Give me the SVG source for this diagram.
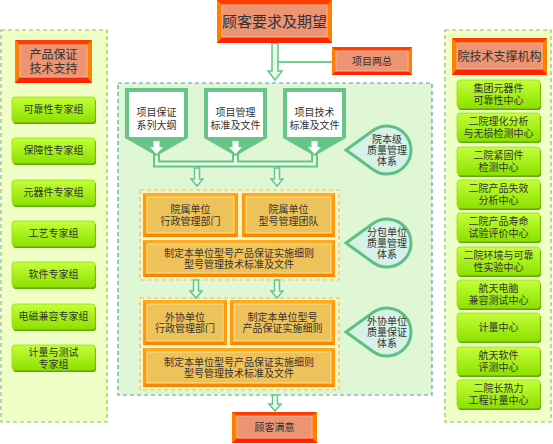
<svg xmlns="http://www.w3.org/2000/svg" width="553" height="444" viewBox="0 0 553 444">
<defs>
<linearGradient id="gb" x1="0" y1="0" x2="0" y2="1">
<stop offset="0" stop-color="#C4FF3A"/>
<stop offset="1" stop-color="#8EE000"/>
</linearGradient>
<style>
text{font-family:'Liberation Sans','Noto Sans CJK SC',sans-serif;fill:#333;text-anchor:middle;dominant-baseline:central}
.t10{font-size:10px}
.t12{font-size:12px}
.t14{font-size:15px}
.panel{fill:#F0FFC6;stroke:#88C85A;stroke-width:1.2;stroke-dasharray:4 3}
.center{fill:#E0F7D6;stroke:#5A9FB0;stroke-width:1.2;stroke-dasharray:4 3}
.cont{fill:#F3F6C8;stroke:#E8C060;stroke-width:1.2;stroke-dasharray:4 3}
.gsh{fill:#5DAE00}
.gbtn{fill:url(#gb);stroke:#9AE010;stroke-width:0.8}
.rside{fill:#FF7F00}
.rtop{fill:#FF3D00}
.rbot{fill:#FF2400}
.rin{fill:#EC9474;stroke:#F6B89A;stroke-width:1}
.oside{fill:#FF9A10}
.otop{fill:#FFAA20}
.obot{fill:#F58800}
.oin{fill:#EEC25A;stroke:#FFE38A;stroke-width:1}
.pent{fill:#66C587}
.pin{fill:#FFFFFF}
.arr{fill:#E8FAE8;stroke:#66C587;stroke-width:1.5}
.call{fill:#D6F1E8;stroke:#5EC083;stroke-width:3}
</style>
</defs>

<!-- background panels -->
<rect class="panel" x="1" y="30" width="106" height="392"/>
<rect class="panel" x="445" y="30" width="106" height="392"/>
<rect class="center" x="118" y="83" width="314" height="312"/>
<rect class="cont" x="140" y="190" width="199" height="90"/>
<rect class="cont" x="140" y="298" width="199" height="92"/>

<!-- connectors -->
<g id="connectors">
<line x1="278" y1="62" x2="333" y2="62" stroke="#70D090" stroke-width="2"/>
<polygon class="arr" points="272,43 278,43 278,71 282,71 275,80 268,71 272,71"/>
<path d="M156.5,152 V164 H314.5 V152 M235.5,152 V164" fill="none" stroke="#66C587" stroke-width="7"/>
<path d="M156.5,152 V164 H314.5 V152 M235.5,152 V164" fill="none" stroke="#E8FAE8" stroke-width="3"/>
<polygon class="arr" points="194.5,168 199.5,168 199.5,179 203,179 197,186 191,179 194.5,179"/>
<polygon class="arr" points="274.5,168 279.5,168 279.5,179 283,179 277,186 271,179 274.5,179"/>
<polygon class="arr" points="193.5,280 198.5,280 198.5,291 202,291 196,298 190,291 193.5,291"/>
<polygon class="arr" points="274.5,280 279.5,280 279.5,291 283,291 277,298 271,291 274.5,291"/>
<polygon class="arr" points="272.5,395 277.5,395 277.5,404 281,404 275,411 269,404 272.5,404"/>
</g>

<!-- top box -->
<g id="n-top">
<rect class="rside" x="217" y="0" width="115" height="43"/>
<polygon class="rtop" points="217,0 332,0 327,5 222,5"/>
<polygon class="rbot" points="217,43 332,43 327,37 222,37"/>
<rect class="rin" x="222" y="5" width="105" height="32"/>
<text class="t14" x="274.5" y="21.5">顾客要求及期望</text>
</g>

<g id="n-liangzong">
<rect class="rside" x="332" y="47" width="80" height="28"/>
<polygon class="rtop" points="332,47 412,47 408,51 336,51"/>
<polygon class="rbot" points="332,75 412,75 408,71 336,71"/>
<rect class="rin" x="336" y="51" width="72" height="20"/>
<text class="t10" x="372" y="61">项目两总</text>
</g>

<!-- left panel -->
<g id="n-left-title">
<rect class="rside" x="15" y="40" width="77" height="43"/>
<polygon class="rtop" points="15,40 92,40 87,45 20,45"/>
<polygon class="rbot" points="15,83 92,83 87,77 20,77"/>
<rect class="rin" x="20" y="45" width="67" height="32"/>
<text class="t12" x="53.5" y="55">产品保证</text>
<text class="t12" x="53.5" y="69">技术支持</text>
</g>
<g id="n-l1"><rect class="gsh" x="13" y="99" width="83" height="25" rx="3"/><rect class="gbtn" x="12" y="97" width="83" height="25" rx="3"/><text class="t10" x="53.5" y="109.5">可靠性专家组</text></g>
<g id="n-l2"><rect class="gsh" x="13" y="140" width="83" height="25" rx="3"/><rect class="gbtn" x="12" y="138" width="83" height="25" rx="3"/><text class="t10" x="53.5" y="150.5">保障性专家组</text></g>
<g id="n-l3"><rect class="gsh" x="13" y="182" width="83" height="25" rx="3"/><rect class="gbtn" x="12" y="180" width="83" height="25" rx="3"/><text class="t10" x="53.5" y="192.5">元器件专家组</text></g>
<g id="n-l4"><rect class="gsh" x="13" y="223" width="83" height="25" rx="3"/><rect class="gbtn" x="12" y="221" width="83" height="25" rx="3"/><text class="t10" x="53.5" y="233.5">工艺专家组</text></g>
<g id="n-l5"><rect class="gsh" x="13" y="264" width="83" height="25" rx="3"/><rect class="gbtn" x="12" y="262" width="83" height="25" rx="3"/><text class="t10" x="53.5" y="274.5">软件专家组</text></g>
<g id="n-l6"><rect class="gsh" x="13" y="306" width="83" height="25" rx="3"/><rect class="gbtn" x="12" y="304" width="83" height="25" rx="3"/><text class="t10" x="53.5" y="316.5">电磁兼容专家组</text></g>
<g id="n-l7"><rect class="gsh" x="13" y="347" width="83" height="25" rx="3"/><rect class="gbtn" x="12" y="345" width="83" height="25" rx="3"/><text class="t10" x="53.5" y="352">计量与测试</text><text class="t10" x="53.5" y="364">专家组</text></g>

<!-- right panel -->
<g id="n-right-title">
<rect class="rside" x="452" y="38" width="95" height="37"/>
<polygon class="rtop" points="452,38 547,38 542,43 457,43"/>
<polygon class="rbot" points="452,75 547,75 542,69 457,69"/>
<rect class="rin" x="457" y="43" width="85" height="26"/>
<text class="t12" x="499.5" y="56.5">院技术支撑机构</text>
</g>
<g id="n-r1"><rect class="gsh" x="458" y="82" width="83" height="28" rx="3"/><rect class="gbtn" x="457" y="80" width="83" height="28" rx="3"/><text class="t10" x="498.5" y="88">集团元器件</text><text class="t10" x="498.5" y="100">可靠性中心</text></g>
<g id="n-r2"><rect class="gsh" x="458" y="115" width="83" height="28" rx="3"/><rect class="gbtn" x="457" y="113" width="83" height="28" rx="3"/><text class="t10" x="498.5" y="121">二院理化分析</text><text class="t10" x="498.5" y="133">与无损检测中心</text></g>
<g id="n-r3"><rect class="gsh" x="458" y="149" width="83" height="28" rx="3"/><rect class="gbtn" x="457" y="147" width="83" height="28" rx="3"/><text class="t10" x="498.5" y="155">二院紧固件</text><text class="t10" x="498.5" y="167">检测中心</text></g>
<g id="n-r4"><rect class="gsh" x="458" y="182" width="83" height="28" rx="3"/><rect class="gbtn" x="457" y="180" width="83" height="28" rx="3"/><text class="t10" x="498.5" y="188">二院产品失效</text><text class="t10" x="498.5" y="200">分析中心</text></g>
<g id="n-r5"><rect class="gsh" x="458" y="215" width="83" height="28" rx="3"/><rect class="gbtn" x="457" y="213" width="83" height="28" rx="3"/><text class="t10" x="498.5" y="221">二院产品寿命</text><text class="t10" x="498.5" y="233">试验评价中心</text></g>
<g id="n-r6"><rect class="gsh" x="458" y="249" width="83" height="28" rx="3"/><rect class="gbtn" x="457" y="247" width="83" height="28" rx="3"/><text class="t10" x="498.5" y="255">二院环境与可靠</text><text class="t10" x="498.5" y="267">性实验中心</text></g>
<g id="n-r7"><rect class="gsh" x="458" y="282" width="83" height="28" rx="3"/><rect class="gbtn" x="457" y="280" width="83" height="28" rx="3"/><text class="t10" x="498.5" y="288">航天电脑</text><text class="t10" x="498.5" y="300">兼容测试中心</text></g>
<g id="n-r8"><rect class="gsh" x="458" y="315" width="83" height="28" rx="3"/><rect class="gbtn" x="457" y="313" width="83" height="28" rx="3"/><text class="t10" x="498.5" y="327">计量中心</text></g>
<g id="n-r9"><rect class="gsh" x="458" y="349" width="83" height="28" rx="3"/><rect class="gbtn" x="457" y="347" width="83" height="28" rx="3"/><text class="t10" x="498.5" y="355">航天软件</text><text class="t10" x="498.5" y="367">评测中心</text></g>
<g id="n-r10"><rect class="gsh" x="458" y="382" width="83" height="28" rx="3"/><rect class="gbtn" x="457" y="380" width="83" height="28" rx="3"/><text class="t10" x="498.5" y="388">二院长热力</text><text class="t10" x="498.5" y="400">工程计量中心</text></g>

<!-- center top pentagons -->
<g id="n-p1">
<polygon class="pent" points="125,88 188,88 188,138 156.5,156 125,138"/>
<rect class="pin" x="129" y="92" width="55" height="45"/>
<polygon class="pin" points="153.5,141 159.5,141 159.5,147 163,147 156.5,154 150,147 153.5,147"/>
<text class="t10" x="156.5" y="112">项目保证</text>
<text class="t10" x="156.5" y="125">系列大纲</text>
</g>
<g id="n-p2">
<polygon class="pent" points="204,88 267,88 267,138 235.5,156 204,138"/>
<rect class="pin" x="208" y="92" width="55" height="45"/>
<polygon class="pin" points="232.5,141 238.5,141 238.5,147 242,147 235.5,154 229,147 232.5,147"/>
<text class="t10" x="235.5" y="112">项目管理</text>
<text class="t10" x="235.5" y="125">标准及文件</text>
</g>
<g id="n-p3">
<polygon class="pent" points="283,88 346,88 346,138 314.5,156 283,138"/>
<rect class="pin" x="287" y="92" width="55" height="45"/>
<polygon class="pin" points="311.5,141 317.5,141 317.5,147 321,147 314.5,154 308,147 311.5,147"/>
<text class="t10" x="314.5" y="112">项目技术</text>
<text class="t10" x="314.5" y="125">标准及文件</text>
</g>

<!-- callouts -->
<g id="n-c1">
<path class="call" d="M346,150 L372.95,130.54 A24,24 0 1 1 372.95,169.46 Z"/>
<text class="t10" x="387" y="139">院本级</text>
<text class="t10" x="387" y="150">质量管理</text>
<text class="t10" x="387" y="161">体系</text>
</g>
<g id="n-c2">
<path class="call" d="M346,243 L372.95,223.54 A24,24 0 1 1 372.95,262.46 Z"/>
<text class="t10" x="387" y="232">分包单位</text>
<text class="t10" x="387" y="243">质量管理</text>
<text class="t10" x="387" y="254">体系</text>
</g>
<g id="n-c3">
<path class="call" d="M346,332 L372.95,312.54 A24,24 0 1 1 372.95,351.46 Z"/>
<text class="t10" x="387" y="321">外协单位</text>
<text class="t10" x="387" y="332">质量保证</text>
<text class="t10" x="387" y="343">体系</text>
</g>

<!-- section 2 orange boxes -->
<g id="n-o1">
<rect class="oside" x="143" y="193" width="95" height="44"/>
<polygon class="otop" points="143,193 238,193 234,197 147,197"/>
<polygon class="obot" points="143,237 238,237 234,233 147,233"/>
<rect class="oin" x="147" y="197" width="87" height="36"/>
<text class="t10" x="190.5" y="209.5">院属单位</text>
<text class="t10" x="190.5" y="221">行政管理部门</text>
</g>
<g id="n-o2">
<rect class="oside" x="242" y="193" width="93" height="44"/>
<polygon class="otop" points="242,193 335,193 331,197 246,197"/>
<polygon class="obot" points="242,237 335,237 331,233 246,233"/>
<rect class="oin" x="246" y="197" width="85" height="36"/>
<text class="t10" x="288.5" y="209.5">院属单位</text>
<text class="t10" x="288.5" y="221">型号管理团队</text>
</g>
<g id="n-o3">
<rect class="oside" x="143" y="240" width="192" height="37"/>
<polygon class="otop" points="143,240 335,240 331,244 147,244"/>
<polygon class="obot" points="143,277 335,277 331,273 147,273"/>
<rect class="oin" x="147" y="244" width="184" height="29"/>
<text class="t10" x="239" y="253">制定本单位型号产品保证实施细则</text>
<text class="t10" x="239" y="264.5">型号管理技术标准及文件</text>
</g>

<!-- section 3 orange boxes -->
<g id="n-o4">
<rect class="oside" x="143" y="300" width="84" height="45"/>
<polygon class="otop" points="143,300 227,300 223,304 147,304"/>
<polygon class="obot" points="143,345 227,345 223,341 147,341"/>
<rect class="oin" x="147" y="304" width="76" height="37"/>
<text class="t10" x="185" y="317">外协单位</text>
<text class="t10" x="185" y="328.5">行政管理部门</text>
</g>
<g id="n-o5">
<rect class="oside" x="230" y="300" width="105" height="45"/>
<polygon class="otop" points="230,300 335,300 331,304 234,304"/>
<polygon class="obot" points="230,345 335,345 331,341 234,341"/>
<rect class="oin" x="234" y="304" width="97" height="37"/>
<text class="t10" x="282.5" y="317">制定本单位型号</text>
<text class="t10" x="282.5" y="328.5">产品保证实施细则</text>
</g>
<g id="n-o6">
<rect class="oside" x="143" y="348" width="192" height="39"/>
<polygon class="otop" points="143,348 335,348 331,352 147,352"/>
<polygon class="obot" points="143,387 335,387 331,383 147,383"/>
<rect class="oin" x="147" y="352" width="184" height="31"/>
<text class="t10" x="239" y="362">制定本单位型号产品保证实施细则</text>
<text class="t10" x="239" y="373.5">型号管理技术标准及文件</text>
</g>

<!-- bottom box -->
<g id="n-bottom">
<rect class="rside" x="232" y="412" width="85" height="31"/>
<polygon class="rtop" points="232,412 317,412 312,416 237,416"/>
<polygon class="rbot" points="232,443 317,443 312,438 237,438"/>
<rect class="rin" x="237" y="416" width="75" height="22"/>
<text class="t10" x="274.5" y="427.5">顾客满意</text>
</g>
</svg>
